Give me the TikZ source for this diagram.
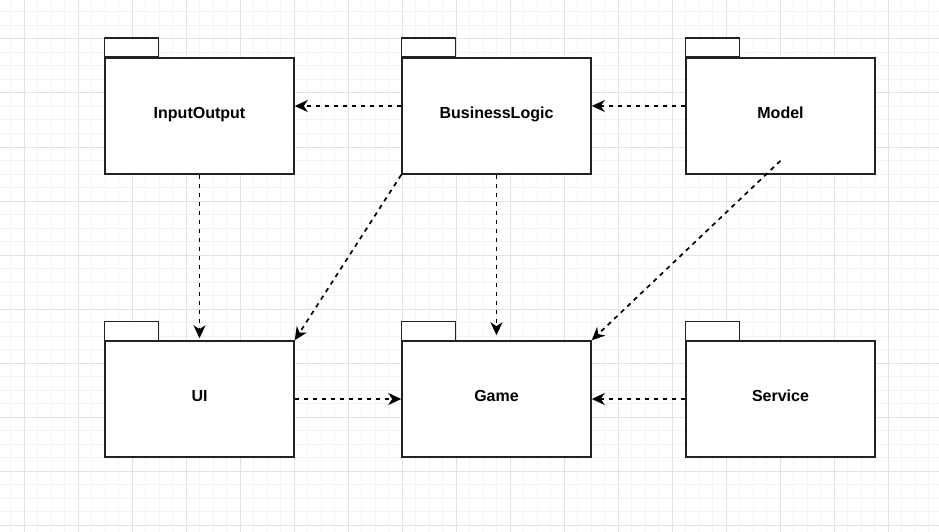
\documentclass[tikz,border=0pt]{standalone}
\usepackage{fontspec}
\setmainfont{Liberation Sans}
\usetikzlibrary{arrows.meta}
\definecolor{gminor}{HTML}{F4F4F4}
\definecolor{gmajor}{HTML}{E2E2E2}
\definecolor{pline}{HTML}{222222}
\tikzset{
  pkgbody/.style={draw=pline, line width=1.5pt, fill=white, minimum width=189pt, minimum height=116pt, inner sep=0pt, text height=11.5pt, text depth=6.5pt, font=\bfseries\fontsize{16}{19}\selectfont},
  pkgtab/.style={draw=pline, line width=1.5pt, fill=white},
  dep/.style={draw=black, line width=1.7pt, dash pattern=on 4.5pt off 4.5pt, -{Stealth[length=13pt,width=12pt,inset=4pt]}},
  gminorline/.style={draw=gminor, line width=1pt},
  gmajorline/.style={draw=gmajor, line width=1pt}
}
\begin{document}
\begin{tikzpicture}[x=1pt,y=-1pt]
\useasboundingbox (0,0) rectangle (939,532);
\fill[white] (0,0) rectangle (939,532);
% grid
\foreach \k in {0,...,68} \draw[gminorline] ({10.5+13.5*\k},0) -- ({10.5+13.5*\k},532);
\foreach \k in {0,...,38} \draw[gminorline] (0,{12+13.5*\k}) -- (939,{12+13.5*\k});
\foreach \k in {0,...,16} \draw[gmajorline] ({24+54*\k},0) -- ({24+54*\k},532);
\foreach \k in {0,...,9} \draw[gmajorline] (0,{39+54*\k}) -- (939,{39+54*\k});
% packages
\node[pkgbody] (io) at (199.5,116) {InputOutput};
\node[pkgbody] (bl) at (496.5,116) {BusinessLogic};
\node[pkgbody] (model) at (780.5,116) {Model};
\node[pkgbody] (ui) at (199.5,399) {UI};
\node[pkgbody] (game) at (496.5,399) {Game};
\node[pkgbody] (service) at (780.5,399) {Service};
\foreach \n in {io,bl,model,ui,game,service}
  \draw[pkgtab] (\n.north west) rectangle ++(54,-19);
% dependencies
\draw[dep] ([yshift=10pt]bl.west) -- ([yshift=10pt]io.east);
\draw[dep] ([yshift=10pt]model.west) -- ([yshift=10pt]bl.east);
\draw[dep] (io.south) -- ([yshift=2pt]ui.north);
\draw[dep] (bl.south west) -- (ui.north east);
\draw[dep] (bl.south) -- ([yshift=5pt]game.north);
\draw[dep] ([yshift=14pt]model.south) -- (game.north east);
\draw[dep] (ui.east) -- (game.west);
\draw[dep] (service.west) -- (game.east);
\end{tikzpicture}
\end{document}
